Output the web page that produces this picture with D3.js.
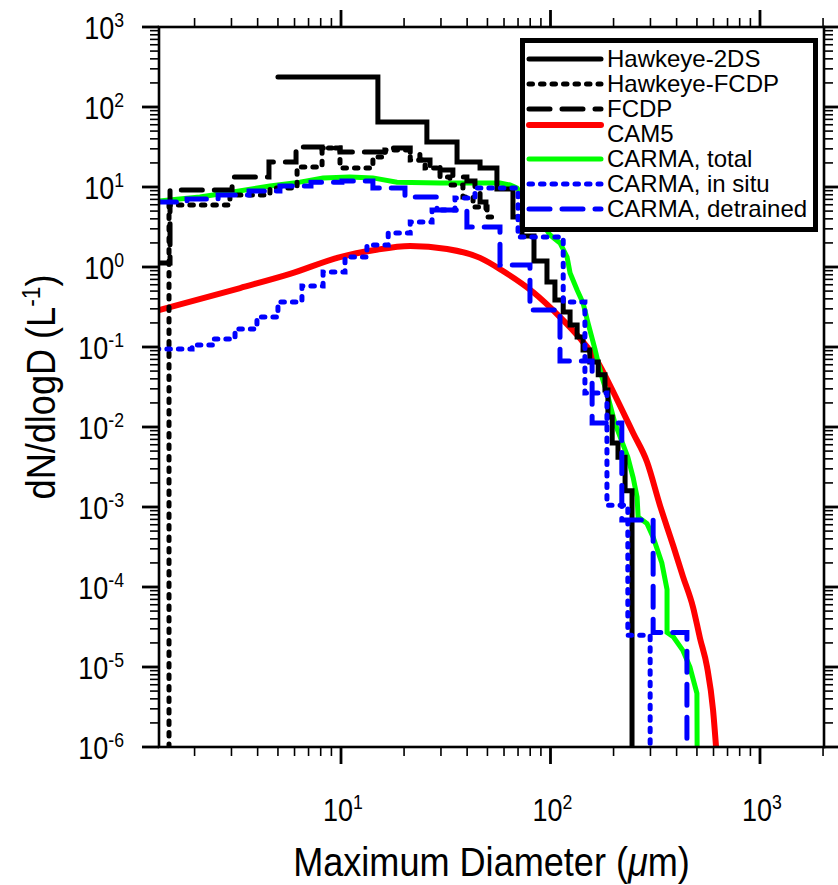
<!DOCTYPE html>
<html><head><meta charset="utf-8">
<script src="https://cdn.jsdelivr.net/npm/d3@7"></script>
<style>
body{margin:0;background:#fff}
text{font-family:"Liberation Sans",Arial,Helvetica,sans-serif;fill:#000}
</style>
</head><body>
<svg id="c" width="838" height="885"></svg>
<script>
// ---------------- data ----------------
const xDomain = [1.3527, 2021];
const yDomain = [1e-6, 1e3];
const xTickExps = [1, 2, 3];
const yTickExps = [-6, -5, -4, -3, -2, -1, 0, 1, 2, 3];

// Hawkeye-2DS (step, left bin edges in um)
const hk2dsD = [5.00, 15.0, 25.7, 35.8, 46.1, 55.5, 66.2, 73.1, 83.4, 96.2, 105, 115, 124, 134, 143, 154, 169, 182, 188, 197, 210, 227, 245];
const hk2dsV = [237, 64.9, 36.5, 20.5, 17.3, 9.44, 4.22, 2.44, 1.19, 0.65, 0.387, 0.274, 0.188, 0.133, 0.092, 0.065, 0.045, 0.029, 0.0133, 0.0063, 0.0042, 0.0016, 1e-9];

// Hawkeye-FCDP (step)
const hkFcdpD = [1.30, 1.51, 2.95, 4.58, 6.17, 8.12, 9.89, 14.2, 16.2, 21.4, 25.2, 29.7, 33.1, 38.2, 42.7, 49.8, 52.6];
const hkFcdpV = [1e-9, 5.96, 7.94, 9.72, 17.8, 30.7, 17.3, 23.7, 29.0, 21.8, 17.3, 13.3, 10.6, 7.5, 5.62, 4.22, 4.22];

// FCDP (step)
const fcdpD = [1.30, 1.527, 3.02, 4.53, 6.10, 8.12, 9.89, 17.1, 21.4, 23.8, 26.6, 29.7, 34.2, 39.9, 43.6, 46.1, 49.2, 51.4];
const fcdpV = [1.12, 9.17, 13.3, 20.5, 31.6, 30.7, 27.4, 30.7, 26.6, 21.8, 17.8, 16.3, 13.3, 11.9, 9.17, 6.49, 4.87, 4.87];

// CAM5 (smooth)
const cam5D = [1.353, 3.30, 5.71, 9.89, 14.5, 21.4, 32.1, 46.1, 59.3, 82.5, 111, 138, 167, 192, 215, 248, 289, 333, 385, 429, 479, 517, 559, 597, 617];
const cam5V = [0.29, 0.546, 0.818, 1.33, 1.63, 1.83, 1.68, 1.30, 0.891, 0.487, 0.237, 0.129, 0.0668, 0.0335, 0.0183, 0.0084, 0.00365, 0.00105, 3.3e-4, 1.35e-4, 5.6e-5, 2.3e-5, 1e-5, 2.9e-6, 1e-6];

// CARMA, total
const totD = [1.353, 2.12, 3.05, 4.58, 6.37, 8.21, 11.0, 14.2, 18.5, 29.7, 57.4, 64.1, 69.2, 79.8, 99.5, 111, 120, 124, 134, 143, 151, 163, 169, 176, 186, 203, 215, 234, 248, 259, 262, 289, 309, 340, 360, 360, 385, 429, 463, 500, 506];
const totV = [6.68, 7.5, 8.66, 10.3, 11.5, 13.0, 13.3, 13.0, 11.5, 11.2, 11.2, 10.6, 9.72, 5.96, 2.51, 2.0, 1.33, 0.841, 0.516, 0.355, 0.2, 0.0944, 0.063, 0.042, 0.0267, 0.0112, 0.0075, 0.0042, 0.00233, 0.00133, 7.5e-4, 6.2e-4, 4.2e-4, 2.0e-4, 9.3e-5, 2.7e-5, 2.4e-5, 1.6e-5, 1e-5, 4.7e-6, 1e-9];

// CARMA, in situ (step)
const insituD = [1.30, 1.945, 2.45, 3.12, 3.97, 5.00, 6.51, 8.21, 10.45, 13.3, 16.8, 21.4, 27.2, 35.0, 43.6, 70.0, 115, 146, 186, 234, 299];
const insituV = [0.0944, 0.106, 0.126, 0.168, 0.237, 0.365, 0.579, 0.866, 1.33, 1.88, 2.66, 3.65, 5.16, 7.29, 9.72, 2.37, 0.365, 0.0267, 0.00105, 2.5e-5, 1e-9];

// CARMA, detrained (step)
const detD = [1.30, 1.841, 2.59, 3.64, 5.11, 7.19, 10.1, 14.2, 20.2, 28.7, 39.9, 57.4, 79.8, 111, 158, 219, 309, 448];
const detV = [6.49, 7.08, 7.94, 8.91, 10.3, 11.5, 11.9, 9.72, 7.5, 5.16, 3.16, 1.06, 0.29, 0.067, 0.0112, 6.9e-4, 2.7e-5, 1e-9];

const legendLabels = ["Hawkeye-2DS", "Hawkeye-FCDP", "FCDP", "CAM5", "CARMA, total", "CARMA, in situ", "CARMA, detrained"];

// ---------------- layout ----------------
const L = 159, R = 824, T = 27, B = 747;
const svg = d3.select("#c");
const x = d3.scaleLog().domain(xDomain).range([L, R]);
const y = d3.scaleLog().domain(yDomain).range([B, T]);

const DOT = "3.5,8", LDASH = "21,12";
const styles = {
  "Hawkeye-2DS":      {color:"#000", w:5, dash:null, curve:d3.curveStepAfter, D:hk2dsD, V:hk2dsV},
  "Hawkeye-FCDP":     {color:"#000", w:5, dash:DOT, curve:d3.curveStepAfter, D:hkFcdpD, V:hkFcdpV},
  "FCDP":             {color:"#000", w:5, dash:LDASH, curve:d3.curveStepAfter, D:fcdpD, V:fcdpV},
  "CAM5":             {color:"#ff0000", w:6, dash:null, curve:d3.curveMonotoneX, D:cam5D, V:cam5V},
  "CARMA, total":     {color:"#00ff00", w:5, dash:null, curve:d3.curveLinear, D:totD, V:totV},
  "CARMA, in situ":   {color:"#0000ff", w:5, dash:DOT, curve:d3.curveStepAfter, D:insituD, V:insituV},
  "CARMA, detrained": {color:"#0000ff", w:5, dash:LDASH, curve:d3.curveStepAfter, D:detD, V:detV}
};
const drawOrder = ["CAM5", "CARMA, total", "Hawkeye-2DS", "Hawkeye-FCDP", "FCDP", "CARMA, in situ", "CARMA, detrained"];

svg.append("defs").append("clipPath").attr("id", "clip")
  .append("rect").attr("x", L).attr("y", T).attr("width", R - L).attr("height", B - T);

const plot = svg.append("g").attr("clip-path", "url(#clip)");
drawOrder.forEach(name => {
  const s = styles[name];
  const pts = s.D.map((d, i) => [d, s.V[i]]);
  const line = d3.line().x(d => x(d[0])).y(d => y(d[1])).curve(s.curve);
  plot.append("path").attr("d", line(pts))
    .attr("fill", "none").attr("stroke", s.color).attr("stroke-width", s.w)
    .attr("stroke-linecap", "round").attr("stroke-linejoin", "miter")
    .attr("stroke-dasharray", s.dash);
});

// ---------------- axes ----------------
const isMajor = v => { const e = Math.log10(v); return Math.abs(e - Math.round(e)) < 1e-6; };
const MAJ = 17, MIN = 9;
const tg = svg.append("g").attr("stroke", "#000");
x.ticks().forEach(v => {
  const px = x(v), len = isMajor(v) ? MAJ : MIN, sw = isMajor(v) ? 2.8 : 1.6;
  tg.append("line").attr("x1", px).attr("x2", px).attr("y1", B).attr("y2", B + len).attr("stroke-width", sw);
  tg.append("line").attr("x1", px).attr("x2", px).attr("y1", T).attr("y2", T - len).attr("stroke-width", sw);
});
y.ticks().forEach(v => {
  const py = y(v), len = isMajor(v) ? MAJ : MIN, sw = isMajor(v) ? 2.8 : 1.6;
  tg.append("line").attr("x1", L).attr("x2", L - len).attr("y1", py).attr("y2", py).attr("stroke-width", sw);
  tg.append("line").attr("x1", R).attr("x2", R + len).attr("y1", py).attr("y2", py).attr("stroke-width", sw);
});

svg.append("rect").attr("x", L).attr("y", T).attr("width", R - L).attr("height", B - T)
  .attr("fill", "none").attr("stroke", "#000").attr("stroke-width", 2.6);

// tick labels (slightly condensed, tall Helvetica look)
function powLabel(px, py, e, anchor) {
  const g = svg.append("g").attr("transform", `translate(${px},${py}) scale(0.93,1.08)`);
  const t = g.append("text").attr("x", 0).attr("y", 0).attr("text-anchor", anchor).style("font-size", "29px");
  t.append("tspan").text("10");
  t.append("tspan").attr("dy", -11).style("font-size", "19px").text(String(e));
}
yTickExps.forEach(e => powLabel(124, y(Math.pow(10, e)) + 12, e, "end"));
xTickExps.forEach(e => powLabel(x(Math.pow(10, e)) + 2, 821, e, "middle"));

// axis titles
const xtg = svg.append("g").attr("transform", `translate(${(L + R) / 2},876) scale(0.95,1.06)`);
const xt = xtg.append("text").attr("x", 0).attr("y", 0)
  .attr("text-anchor", "middle").style("font-size", "38px");
xt.append("tspan").text("Maximum Diameter (");
xt.append("tspan").style("font-style", "italic").text("\u03bc");
xt.append("tspan").text("m)");

const yt = svg.append("text").attr("transform", `translate(55,${(T + B) / 2}) rotate(-90) scale(0.95,1.06)`)
  .attr("text-anchor", "middle").style("font-size", "38px");
yt.append("tspan").text("dN/dlogD (L");
yt.append("tspan").attr("dy", -14).style("font-size", "24px").text("-1");
yt.append("tspan").attr("dy", 14).text(")");

// ---------------- legend ----------------
const lg = svg.append("g");
lg.append("rect").attr("x", 522.5).attr("y", 40.5).attr("width", 293).attr("height", 189)
  .attr("fill", "#fff").attr("stroke", "#000").attr("stroke-width", 5);
const legendLineDy = [-8, -8, -8, -17, -8, -8, -8];
legendLabels.forEach((name, i) => {
  const s = styles[name];
  const base = 67 + 25 * i;
  lg.append("line").attr("x1", 529).attr("x2", 601).attr("y1", base + legendLineDy[i]).attr("y2", base + legendLineDy[i])
    .attr("stroke", s.color).attr("stroke-width", s.w).attr("stroke-linecap", "round")
    .attr("stroke-dasharray", s.dash);
  lg.append("text").attr("x", 607).attr("y", base)
    .style("font-size", "24px").text(name);
});
</script>
</body></html>
